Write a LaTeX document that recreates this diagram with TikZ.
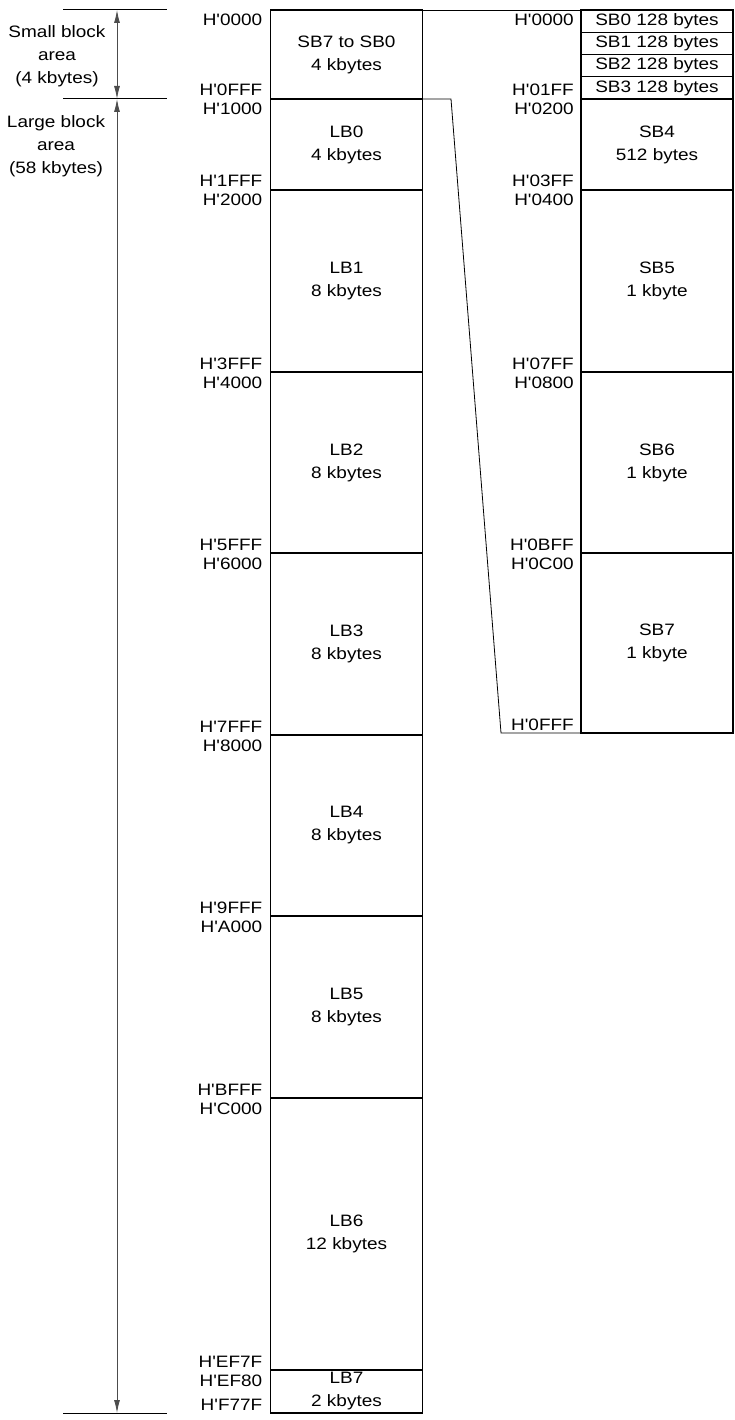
\documentclass[tikz,border=0pt]{standalone}
\usepackage{fontspec}
\setmainfont{Liberation Sans}[FakeStretch=1.15, Ligatures=TeXOff]
\usetikzlibrary{shapes,arrows,arrows.meta,positioning}

\begin{document}
\begin{tikzpicture}[x=1pt, y=-1pt, >={Latex[length=13pt,width=6pt]}, font=\fontsize{16.5}{23}\selectfont]
    \tikzstyle{block} = [rectangle, draw=black, line width=1.1pt, minimum width=152pt, text centered, align=center, inner sep=0pt, outer sep=0pt]
    \tikzstyle{addr} = [inner sep=0pt, anchor=base east]
    \tikzstyle{dim} = [line width=0.9pt, black!70, <->]
    \tikzstyle{tick} = [line width=1pt]
    \useasboundingbox (0,0) rectangle (735,1420);

    % left memory map
    \node[block, minimum height=89pt, anchor=north west] (sball) at (270.5,10) {SB7 to SB0\\4 kbytes};
    \node[block, minimum height=91pt, below=0pt of sball] (lb0) {LB0\\4 kbytes};
    \node[block, minimum height=182pt, below=0pt of lb0] (lb1) {LB1\\8 kbytes};
    \node[block, minimum height=181pt, below=0pt of lb1] (lb2) {LB2\\8 kbytes};
    \node[block, minimum height=182pt, below=0pt of lb2] (lb3) {LB3\\8 kbytes};
    \node[block, minimum height=181pt, below=0pt of lb3] (lb4) {LB4\\8 kbytes};
    \node[block, minimum height=182pt, below=0pt of lb4] (lb5) {LB5\\8 kbytes};
    \node[block, minimum height=272pt, below=0pt of lb5] (lb6) {LB6\\12 kbytes};
    \node[block, minimum height=43pt, below=0pt of lb6] (lb7) {LB7\\2 kbytes};

    % right memory map
    \node[block, minimum height=22.25pt, anchor=north west] (sb0) at (581,10) {SB0 128 bytes};
    \node[block, minimum height=22.25pt, below=0pt of sb0] (sb1) {SB1 128 bytes};
    \node[block, minimum height=22.25pt, below=0pt of sb1] (sb2) {SB2 128 bytes};
    \node[block, minimum height=22.25pt, below=0pt of sb2] (sb3) {SB3 128 bytes};
    \node[block, minimum height=91pt, below=0pt of sb3] (sb4) {SB4\\512 bytes};
    \node[block, minimum height=182pt, below=0pt of sb4] (sb5) {SB5\\1 kbyte};
    \node[block, minimum height=181pt, below=0pt of sb5] (sb6) {SB6\\1 kbyte};
    \node[block, minimum height=180pt, below=0pt of sb6] (sb7) {SB7\\1 kbyte};

    % addresses, left
    \node[addr] (a0000) at ([xshift=-8pt,yshift=-16pt]sball.north west) {H'0000};
    \node[addr] (a0fff) at ([xshift=-8pt,yshift=3pt]sball.south west) {H'0FFF};
    \node[addr] (a1000) at ([xshift=-8pt,yshift=-16pt]lb0.north west) {H'1000};
    \node[addr] (a1fff) at ([xshift=-8pt,yshift=3pt]lb0.south west) {H'1FFF};
    \node[addr] (a2000) at ([xshift=-8pt,yshift=-16pt]lb1.north west) {H'2000};
    \node[addr] (a3fff) at ([xshift=-8pt,yshift=3pt]lb1.south west) {H'3FFF};
    \node[addr] (a4000) at ([xshift=-8pt,yshift=-16pt]lb2.north west) {H'4000};
    \node[addr] (a5fff) at ([xshift=-8pt,yshift=3pt]lb2.south west) {H'5FFF};
    \node[addr] (a6000) at ([xshift=-8pt,yshift=-16pt]lb3.north west) {H'6000};
    \node[addr] (a7fff) at ([xshift=-8pt,yshift=3pt]lb3.south west) {H'7FFF};
    \node[addr] (a8000) at ([xshift=-8pt,yshift=-16pt]lb4.north west) {H'8000};
    \node[addr] (a9fff) at ([xshift=-8pt,yshift=3pt]lb4.south west) {H'9FFF};
    \node[addr] (aa000) at ([xshift=-8pt,yshift=-16pt]lb5.north west) {H'A000};
    \node[addr] (abfff) at ([xshift=-8pt,yshift=3pt]lb5.south west) {H'BFFF};
    \node[addr] (ac000) at ([xshift=-8pt,yshift=-16pt]lb6.north west) {H'C000};
    \node[addr] (aef7f) at ([xshift=-8pt,yshift=3pt]lb6.south west) {H'EF7F};
    \node[addr] (aef80) at ([xshift=-8pt,yshift=-16pt]lb7.north west) {H'EF80};
    \node[addr] (af77f) at ([xshift=-8pt,yshift=3pt]lb7.south west) {H'F77F};

    % addresses, right
    \node[addr] (b0000) at ([xshift=-7pt,yshift=-16pt]sb0.north west) {H'0000};
    \node[addr] (b01ff) at ([xshift=-7pt,yshift=3pt]sb3.south west) {H'01FF};
    \node[addr] (b0200) at ([xshift=-7pt,yshift=-16pt]sb4.north west) {H'0200};
    \node[addr] (b03ff) at ([xshift=-7pt,yshift=3pt]sb4.south west) {H'03FF};
    \node[addr] (b0400) at ([xshift=-7pt,yshift=-16pt]sb5.north west) {H'0400};
    \node[addr] (b07ff) at ([xshift=-7pt,yshift=3pt]sb5.south west) {H'07FF};
    \node[addr] (b0800) at ([xshift=-7pt,yshift=-16pt]sb6.north west) {H'0800};
    \node[addr] (b0bff) at ([xshift=-7pt,yshift=3pt]sb6.south west) {H'0BFF};
    \node[addr] (b0c00) at ([xshift=-7pt,yshift=-16pt]sb7.north west) {H'0C00};
    \node[addr] (b0fff) at ([xshift=-7pt,yshift=3pt]sb7.south west) {H'0FFF};

    % area labels
    \node[align=center, inner sep=0pt] (small) at (57,56) {Small block\\area\\(4 kbytes)};
    \node[align=center, inner sep=0pt, anchor=north] (large) at (56,115) {Large block\\area\\(58 kbytes)};

    % dimension lines
    \coordinate (tickal) at (63,10);
    \coordinate (tickar) at (167,10);
    \coordinate (tickbl) at (63,99);
    \coordinate (tickbr) at (167,99);
    \coordinate (tickcl) at (63,1413);
    \coordinate (tickcr) at (167,1413);
    \coordinate (dimtop) at (117,10);
    \coordinate (dimmid) at (117,99);
    \coordinate (dimbot) at (117,1413);
    \draw[tick] (tickal) -- (tickar);
    \draw[tick] (tickbl) -- (tickbr);
    \draw[tick] (tickcl) -- (tickcr);
    \draw[dim] (dimtop) -- (dimmid);
    \draw[dim] (dimmid) -- (dimbot);

    % expansion lines
    \coordinate (bendtop) at (451,99);
    \coordinate (bendbot) at (501,733);
    \draw[line width=0.8pt] (sball.north east) -- (sb0.north west);
    \draw[line width=0.8pt] (sball.south east) -- (bendtop) -- (bendbot) -- (sb7.south west);
\end{tikzpicture}
\end{document}
